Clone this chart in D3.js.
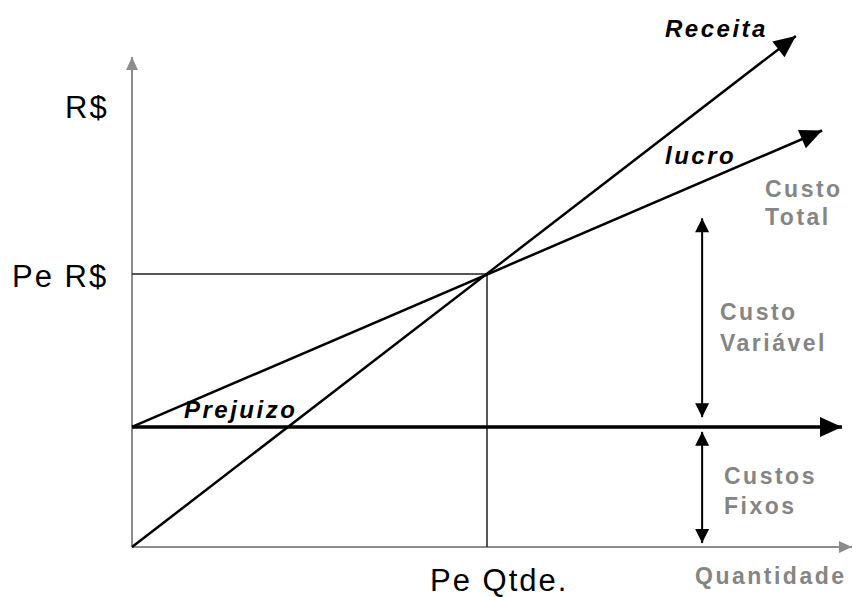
<!DOCTYPE html>
<html>

<head>
    <meta charset="utf-8">
    <style>
        body {
            margin: 0;
            background: #fff;
        }

        svg {
            display: block;
        }

        .big {
            font-family: "Liberation Sans", Arial, sans-serif;
            font-size: 31px;
            letter-spacing: 2px;
            fill: #000;
        }

        .gray {
            font-family: "Liberation Sans", Arial, sans-serif;
            font-size: 23px;
            font-weight: bold;
            letter-spacing: 2.5px;
            fill: #858585;
        }

        .ital {
            font-family: "Liberation Sans", Arial, sans-serif;
            font-size: 24px;
            font-weight: bold;
            font-style: italic;
            letter-spacing: 2.5px;
            fill: #000;
        }
    </style>
</head>

<body>
    <svg width="853" height="597"></svg>

    <script src="https://cdnjs.cloudflare.com/ajax/libs/d3/7.8.5/d3.min.js"></script>
    <script>
        // valores (quantidade 0-100, R$ 0-100)
        const eixoQ = [0, 101.4];           // eixo horizontal
        const eixoR = [0, 100];             // eixo vertical
        const receitaQ = [0, 93.5];
        const receitaR = [0, 104.3];
        const custoTotalQ = [0, 97.2];
        const custoTotalR = [24.5, 85];
        const custoFixoQ = [0, 100];
        const custoFixoR = [24.5, 24.5];
        const peQtde = 50;                  // ponto de equilibrio
        const peValor = 55.7;
        const setaQ = 80.3;                 // posicao das setas duplas
        const custoVariavelR = [67.1, 26.5];
        const custosFixosR = [23.5, 0.8];

        let svg = d3.select("svg");
        let x = d3.scaleLinear().domain([0, 100]).range([132, 842]);
        let y = d3.scaleLinear().domain([0, 100]).range([547, 57]);

        let line = d3.line().x(d => x(d[0])).y(d => y(d[1]));
        let pts = (qs, rs) => qs.map((q, i) => [q, rs[i]]);

        // marcadores de seta
        let defs = svg.append("defs");
        function marker(id, len, half, color) {
            defs.append("marker")
                .attr("id", id)
                .attr("viewBox", `${-len - 1} ${-half - 1} ${len + 2} ${half * 2 + 2}`)
                .attr("markerWidth", len + 2)
                .attr("markerHeight", half * 2 + 2)
                .attr("markerUnits", "userSpaceOnUse")
                .attr("refX", 0)
                .attr("refY", 0)
                .attr("orient", "auto-start-reverse")
                .append("path")
                .attr("d", `M0,0L${-len},${-half}L${-len},${half}Z`)
                .attr("fill", color);
        }
        marker("grande", 22, 10, "#000");
        marker("pequena", 14, 7, "#000");
        marker("cinza", 13, 6, "#8c8c8c");

        // eixos
        svg.append("path")
            .attr("d", line(pts([0, 0], eixoR)))
            .attr("stroke", "#8c8c8c").attr("stroke-width", 2).attr("fill", "none")
            .attr("marker-end", "url(#cinza)");
        svg.append("path")
            .attr("d", line(pts(eixoQ, [0, 0])))
            .attr("stroke", "#8c8c8c").attr("stroke-width", 2).attr("fill", "none")
            .attr("marker-end", "url(#cinza)");

        // linhas do ponto de equilibrio
        svg.append("path")
            .attr("d", line([[0, peValor], [peQtde, peValor], [peQtde, 0]]))
            .attr("stroke", "#222").attr("stroke-width", 1.5).attr("fill", "none");

        // custo fixo
        svg.append("path")
            .attr("d", line(pts(custoFixoQ, custoFixoR)))
            .attr("stroke", "#000").attr("stroke-width", 3.5).attr("fill", "none")
            .attr("marker-end", "url(#grande)");

        // receita
        svg.append("path")
            .attr("d", line(pts(receitaQ, receitaR)))
            .attr("stroke", "#000").attr("stroke-width", 2.5).attr("fill", "none")
            .attr("marker-end", "url(#grande)");

        // custo total
        svg.append("path")
            .attr("d", line(pts(custoTotalQ, custoTotalR)))
            .attr("stroke", "#000").attr("stroke-width", 2.5).attr("fill", "none")
            .attr("marker-end", "url(#grande)");

        // setas duplas
        [custoVariavelR, custosFixosR].forEach(r => {
            svg.append("path")
                .attr("d", line(pts([setaQ, setaQ], r)))
                .attr("stroke", "#000").attr("stroke-width", 2).attr("fill", "none")
                .attr("marker-start", "url(#pequena)")
                .attr("marker-end", "url(#pequena)");
        });

        // textos
        function label(cls, tx, ty, lines, dy) {
            let t = svg.append("text").attr("class", cls).attr("x", tx).attr("y", ty);
            lines.forEach((s, i) => {
                t.append("tspan").attr("x", tx).attr("dy", i == 0 ? 0 : dy).text(s);
            });
        }
        label("big", 65, 118, ["R$"]);
        label("big", 12, 287, ["Pe R$"]);
        label("big", x(peQtde) - 57, 591, ["Pe Qtde."]);

        label("ital", 665, 37, ["Receita"]);
        label("ital", 665, 164, ["lucro"]);
        label("ital", 184, 418, ["Prejuizo"]);

        label("gray", 765, 197, ["Custo", "Total"], 28);
        label("gray", 720, 320, ["Custo", "Variável"], 31);
        label("gray", 724, 484, ["Custos", "Fixos"], 30);
        label("gray", 695, 584, ["Quantidade"]);
    </script>
</body>

</html>
